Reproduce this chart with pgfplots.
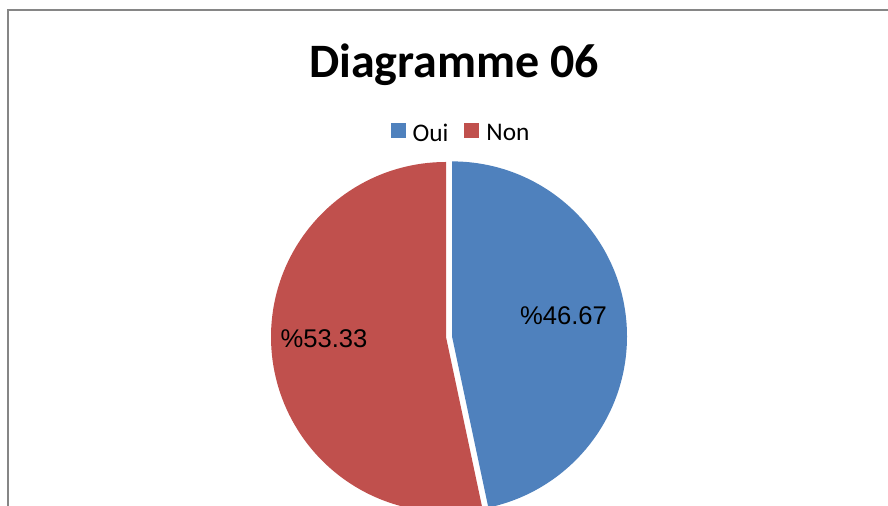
\documentclass[border=0pt]{standalone}
\usepackage{fontspec}
\setmainfont{Carlito}
\newfontfamily\arial{Liberation Sans}
\usepackage{pgfplots}
\pgfplotsset{compat=1.18}

\definecolor{ouiblue}{RGB}{79,129,189}
\definecolor{nonred}{RGB}{192,80,77}
\definecolor{framegray}{RGB}{134,134,134}

% values (percent)
\def\oui{46.67}
\def\non{53.33}
\pgfmathsetmacro{\angOui}{3.6*\oui}
\pgfmathsetmacro{\angNon}{3.6*\non}
\def\R{131.25pt}

\begin{document}
\begin{tikzpicture}
\begin{axis}[
  scale only axis,
  width=666pt, height=379.5pt,
  xmin=0, xmax=888, ymin=0, ymax=506,
  hide axis,
  legend style={
    at={(0.518,0.737)}, anchor=center,
    draw=none, fill=none, inner sep=0pt,
    font=\fontsize{19}{21}\selectfont,
    legend columns=2,
    /tikz/every even column/.append style={column sep=12pt},
    nodes={inner sep=0pt, outer sep=0pt},
    legend cell align=left,
  },
  legend image code/.code={\fill[#1, draw=none] (0pt,-3pt) rectangle (11.25pt,8.25pt);
    \path[draw=none, fill=none] (11.25pt,0) -- (16.5pt,0);},
]
\addlegendimage{ouiblue}
\addlegendentry{Oui}
\addlegendimage{nonred}
\addlegendentry{Non}

\coordinate (SW) at (axis cs:0,0);
\coordinate (NE) at (axis cs:888,506);

% pie slices, Oui exploded slightly to the right
\fill[nonred] (axis cs:446,169) -- ++(90:\R)
  arc[start angle=90, end angle={90+\angNon}, radius=\R] -- cycle;
\fill[ouiblue] (axis cs:452,169.6) -- ++(90:\R)
  arc[start angle=90, end angle={90-\angOui}, radius=\R] -- cycle;

\node[anchor=base, inner sep=0pt, font=\arial\fontsize{19.2}{22}\selectfont] at (axis cs:563.5,181) {\%46.67};
\node[anchor=base, inner sep=0pt, font=\arial\fontsize{19.2}{22}\selectfont] at (axis cs:324,158) {\%53.33};

\node[anchor=base, inner sep=0pt, font=\bfseries\fontsize{36}{40}\selectfont] at (axis cs:454,428) {Diagramme 06};

\draw[framegray, line width=1.3pt] (axis cs:8,-14) -- (axis cs:8,496.2) -- (axis cs:900,496.2);
\end{axis}
\pgfresetboundingbox
\path[use as bounding box] (SW) rectangle (NE);
\end{tikzpicture}
\end{document}
